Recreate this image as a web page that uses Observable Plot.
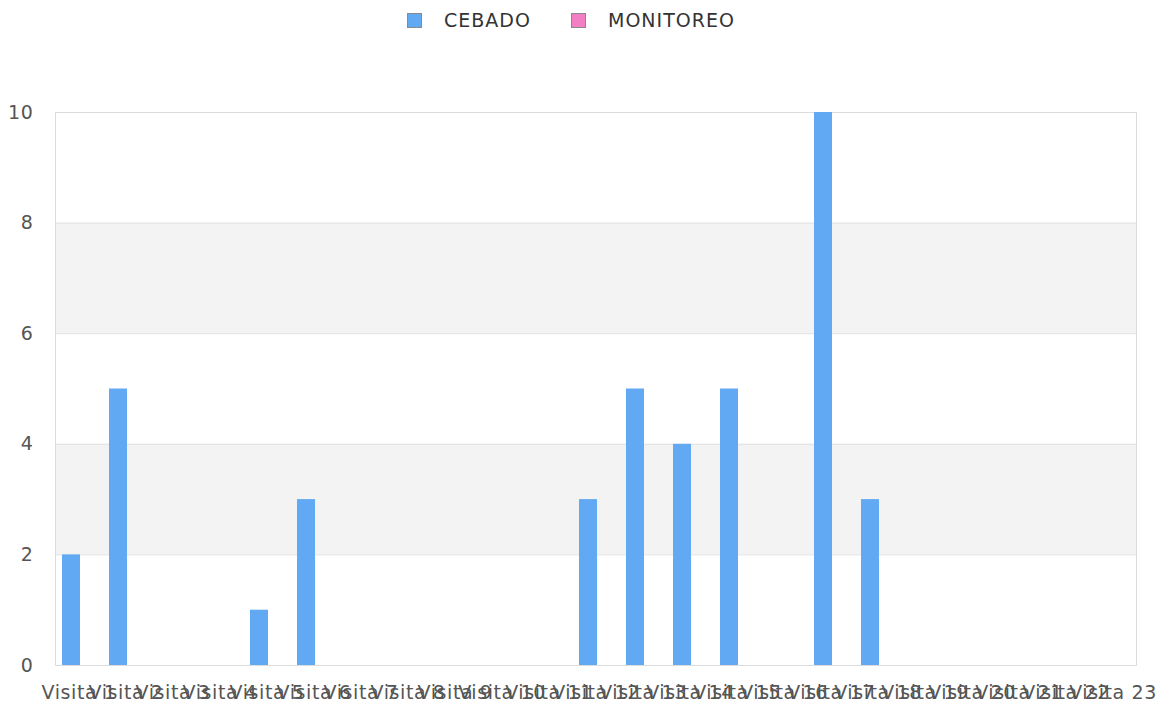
<!DOCTYPE html>
<html><head><meta charset="utf-8">
<script src="https://cdn.jsdelivr.net/npm/d3@7"></script>
<script src="https://cdn.jsdelivr.net/npm/@observablehq/plot@0.6"></script>
<style>
body{margin:0;background:#fff;font-family:"DejaVu Sans",sans-serif;}
#legend{height:40px;position:relative;}
.item{position:absolute;top:11px;display:flex;align-items:center;font-size:19px;line-height:19px;color:#333;letter-spacing:1px;}
.sw{width:13px;height:13px;border:1px solid #8a8a8a;margin-right:22px;box-sizing:content-box}
#chart svg text{letter-spacing:0.6px;}
</style></head><body>
<div id="legend"></div>
<div id="chart"></div>
<script>
const categories = ["Visita 1","Visita 2","Visita 3","Visita 4","Visita 5","Visita 6","Visita 7","Visita 8","Visita 9","Visita 10","Visita 11","Visita 12","Visita 13","Visita 14","Visita 15","Visita 16","Visita 17","Visita 18","Visita 19","Visita 20","Visita 21","Visita 22","Visita 23"];
const cebado    = [2,5,0,0,1,3,0,0,0,0,0,3,5,4,5,0,10,3,0,0,0,0,0];
const monitoreo = [0,0,0,0,0,0,0,0,0,0,0,0,0,0,0,0,0,0,0,0,0,0,0];
const seriesNames = ["CEBADO","MONITOREO"];
const seriesColors = ["#62a9f3","#f27fc4"];
const yTicks = [0,2,4,6,8,10];
const bandRanges = [[2,4],[6,8]];

// legend
const legend = document.getElementById("legend");
const legendLeft = [407, 571];
seriesNames.forEach((n,i)=>{
  const it = document.createElement("div");
  it.className="item"; it.style.left = legendLeft[i]+"px";
  const sw = document.createElement("div"); sw.className="sw"; sw.style.background = seriesColors[i];
  const tx = document.createElement("span"); tx.textContent = n;
  it.appendChild(sw); it.appendChild(tx); legend.appendChild(it);
});

const dataC = categories.map((c,i)=>({cat:c, value:cebado[i]}));
const dataM = categories.map((c,i)=>({cat:c, value:monitoreo[i]}));
const bands = bandRanges.map(([a,b])=>({y1:a,y2:b}));

const chart = Plot.plot({
  width:1158, height:666,
  marginTop:72, marginBottom:41, marginLeft:55, marginRight:22,
  style:{fontFamily:"DejaVu Sans", fontSize:"19px", color:"#555", background:"#fff"},
  x:{domain:categories, padding:0, label:null},
  y:{domain:[0,10], label:null},
  marks:[
    Plot.rect(bands,{y1:"y1", y2:"y2", fill:"#f3f3f3"}),
    Plot.gridY(yTicks,{stroke:"#e2e2e2", strokeOpacity:1}),
    Plot.frame({stroke:"#dcdcdc"}),
    Plot.barY(dataC,{x:"cat", y:"value", fill:seriesColors[0], insetLeft:7, insetRight:22}),
    Plot.barY(dataM,{x:"cat", y:"value", fill:seriesColors[1], insetLeft:25, insetRight:4}),
    Plot.axisY({ticks:yTicks, tickSize:0, tickPadding:22, tickFormat:d=>String(d)}),
    Plot.axisX({tickSize:0, tickPadding:20})
  ]
});
document.getElementById("chart").appendChild(chart);
</script>
</body></html>
